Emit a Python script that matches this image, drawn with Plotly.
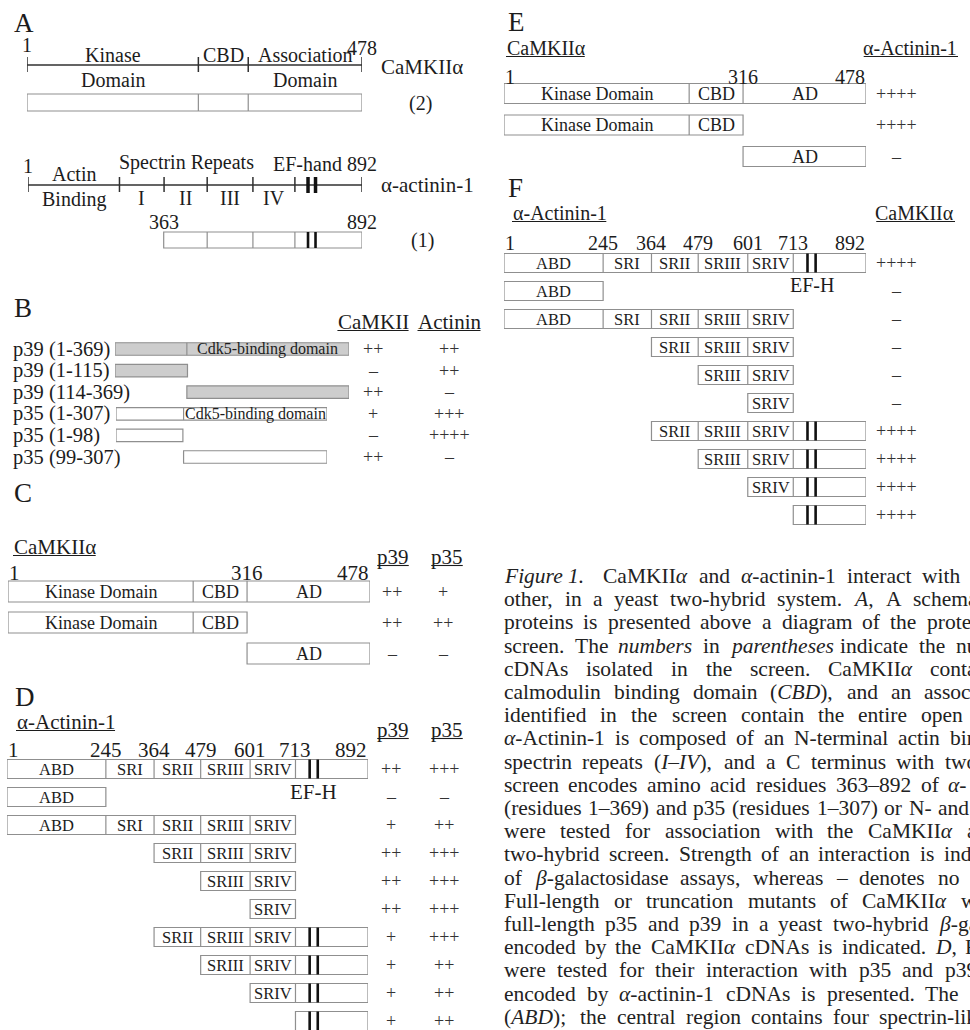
import re
import plotly.graph_objects as go

W, H = 970, 1030
SERIF = "Liberation Serif"
INK = "#1c1c1c"
LINE = "#303030"
EDGE = "#8f8f8f"
SIGN = "#333333"
GREY_FILL = "#cdcdcd"

# ======================= data =======================
# CaMKIIalpha (478 aa)
CAMK_LEN = 478
CAMK_BOUNDS = [1, 245, 316, 478]
CAMK_DOMAINS = ["Kinase Domain", "CBD", "AD"]
CAMK_SCHEME_TOP = ["Kinase", "CBD", "Association"]
CAMK_SCHEME_BOTTOM = ["Domain", "", "Domain"]
CAMK_NUMBERS = [1, 316, 478]

# alpha-actinin-1 (892 aa)
ACTN_LEN = 892
ACTN_BOUNDS = [1, 245, 364, 479, 601, 713, 892]
ACTN_DOMAINS = ["ABD", "SRI", "SRII", "SRIII", "SRIV", ""]
ACTN_ROMAN = ["", "I", "II", "III", "IV", ""]
ACTN_NUMBERS = [1, 245, 364, 479, 601, 713, 892]
ACTN_EF = [748, 768]

# Panel A: clones isolated in the screen
A_CLONE_START = [1, 363]
A_CLONE_END = [478, 892]
A_CLONE_COUNT = ["(2)", "(1)"]

# Panel B: p39 / p35 constructs
P39_LEN = 369
P35_LEN = 307
P39_CDK5_START = 114
P35_CDK5_START = 99
B_NAMES = ["p39 (1-369)", "p39 (1-115)", "p39 (114-369)",
           "p35 (1-307)", "p35 (1-98)", "p35 (99-307)"]
B_PROTEIN = ["p39", "p39", "p39", "p35", "p35", "p35"]
B_START = [1, 1, 114, 1, 1, 99]
B_END = [369, 115, 369, 307, 98, 307]
B_CAMKII = ["++", "\u2013", "++", "+", "\u2013", "++"]
B_ACTININ = ["++", "++", "\u2013", "+++", "++++", "\u2013"]

# Panels C and E: CaMKIIalpha constructs
CE_START = [1, 1, 316]
CE_END = [478, 316, 478]
C_P39 = ["++", "++", "\u2013"]
C_P35 = ["+", "++", "\u2013"]
E_ACTININ = ["++++", "++++", "\u2013"]

# Panels D and F: alpha-actinin-1 constructs
DF_START = [1, 1, 1, 364, 479, 601, 364, 479, 601, 713]
DF_END = [892, 245, 713, 713, 713, 713, 892, 892, 892, 892]
D_P39 = ["++", "\u2013", "+", "++", "++", "++", "+", "+", "+", "+"]
D_P35 = ["+++", "\u2013", "++", "+++", "+++", "+++", "+++", "++", "++", "++"]
F_CAMKII = ["++++", "\u2013", "\u2013", "\u2013", "\u2013", "\u2013",
            "++++", "++++", "++++", "++++"]

CAPTION_LINES = [
    "<i>Figure\u00a01.</i>\u00a0\u00a0 CaMKII<i>\u03b1</i> and <i>\u03b1</i>-actinin-1 interact with t",
    "other, in a yeast two-hybrid system. <i>A</i>, A schema",
    "proteins is presented above a diagram of the protei",
    "screen. The <i>numbers</i> in <i>parentheses</i> indicate the nu",
    "cDNAs isolated in the screen. CaMKII<i>\u03b1</i> conta",
    "calmodulin binding domain (<i>CBD</i>), and an associ",
    "identified in the screen contain the entire open",
    "<i>\u03b1</i>-Actinin-1 is composed of an N-terminal actin bin",
    "spectrin repeats (<i>I\u2013IV</i>), and a C terminus with two",
    "screen encodes amino acid residues 363\u2013892 of <i>\u03b1</i>-",
    "(residues 1\u2013369) and p35 (residues 1\u2013307) or N- and",
    "were tested for association with the CaMKII<i>\u03b1</i> a",
    "two-hybrid screen. Strength of an interaction is indi",
    "of <i>\u03b2</i>-galactosidase assays, whereas \u2013 denotes no",
    "Full-length or truncation mutants of CaMKII<i>\u03b1</i> w",
    "full-length p35 and p39 in a yeast two-hybrid <i>\u03b2</i>-ga",
    "encoded by the CaMKII<i>\u03b1</i> cDNAs is indicated. <i>D</i>, F",
    "were tested for their interaction with p35 and p39",
    "encoded by <i>\u03b1</i>-actinin-1 cDNAs is presented. The I",
    "(<i>ABD</i>); the central region contains four spectrin-lik",
]
CAPTION_END = [976, 976, 976, 976, 976, 976, 962, 976, 976, 966,
               968, 976, 976, 958, 976, 976, 976, 976, 976, 976]

# ======================= layout constants =======================
AXES = [  # key, left px, right px, residues
    ("A_camk", 27, 362, CAMK_LEN),
    ("A_actn", 28, 362, ACTN_LEN),
    ("B_p39", 115, 349, P39_LEN),
    ("B_p35", 116, 327, P35_LEN),
    ("C", 8, 370, CAMK_LEN),
    ("D", 7, 368, ACTN_LEN),
    ("E", 504, 866, CAMK_LEN),
    ("F", 504, 866, ACTN_LEN),
]

# Times / Liberation Serif advance widths (1/1000 em)
CW = {' ': 250, '\u00a0': 250, '!': 333, '(': 333, ')': 333, '+': 564, ',': 250, '-': 333,
      '.': 250, '/': 278, ':': 278, ';': 278, '\u2013': 500, '\u03b1': 550, '\u03b2': 500,
      'A': 722, 'B': 667, 'C': 667, 'D': 722, 'E': 611, 'F': 556, 'G': 722, 'H': 722,
      'I': 333, 'J': 389, 'K': 722, 'L': 611, 'M': 889, 'N': 722, 'O': 722, 'P': 556,
      'Q': 722, 'R': 667, 'S': 556, 'T': 611, 'U': 722, 'V': 722, 'W': 944, 'X': 722,
      'Y': 722, 'Z': 611, 'a': 444, 'b': 500, 'c': 444, 'd': 500, 'e': 444, 'f': 333,
      'g': 500, 'h': 500, 'i': 278, 'j': 278, 'k': 500, 'l': 278, 'm': 778, 'n': 500,
      'o': 500, 'p': 500, 'q': 500, 'r': 333, 's': 389, 't': 278, 'u': 500, 'v': 500,
      'w': 722, 'x': 500, 'y': 500, 'z': 444}


def tw(s, size):
    s = re.sub(r"<[^>]+>", "", s)
    return sum(CW.get(c, 500) for c in s) * size / 1000.0


fig = go.Figure()
shapes, annos = [], []
XR = {}
layout_axes = {}
for i, (key, p0, p1, n) in enumerate(AXES):
    idx = i + 2
    XR[key] = "x%d" % idx
    layout_axes["xaxis%d" % idx] = dict(domain=[p0 / W, p1 / W], range=[1, n], visible=False,
                                        anchor="y", fixedrange=True, autorange=False)
    fig.add_trace(go.Scatter(x=[1, n], y=[-50, -50], xaxis="x%d" % idx, yaxis="y",
                             mode="markers", marker=dict(opacity=0), hoverinfo="skip",
                             showlegend=False))


def T(x, y, s, size=20, xref="x", anchor="center", color=INK, xshift=0):
    annos.append(dict(x=x, y=y, xref=xref, yref="y", text=s, showarrow=False,
                      xanchor=anchor, yanchor="middle", xshift=xshift, borderpad=0,
                      font=dict(family=SERIF, size=size, color=color)))


def vline(xref, x, y0, y1, color=EDGE, w=1.2):
    shapes.append(dict(type="line", xref=xref, yref="y", x0=x, x1=x, y0=y0, y1=y1,
                       line=dict(color=color, width=w), layer="above"))


def hline(xref, x0, x1, y, color=LINE, w=1.5):
    shapes.append(dict(type="line", xref=xref, yref="y", x0=x0, x1=x1, y0=y, y1=y,
                       line=dict(color=color, width=w), layer="above"))


def underlined(x, y, s, size, anchor="left"):
    T(x, y, s, size, anchor=anchor)
    w = tw(s, size)
    x0 = x if anchor == "left" else (x - w / 2 if anchor == "center" else x - w)
    hline("x", x0, x0 + w, y + 8.5, color=INK, w=1.1)


def construct(key, bounds, names, start, end, yc, h, fs, ef=None, fill="white",
              label=True):
    xr = XR[key]
    y0, y1 = yc - h / 2, yc + h / 2
    shapes.append(dict(type="rect", xref=xr, yref="y", x0=start, x1=end, y0=y0, y1=y1,
                       line=dict(color=EDGE, width=1.2), fillcolor=fill, layer="above"))
    for b in bounds:
        if start + 3 < b < end - 3:
            vline(xr, b, y0, y1)
    if label:
        for i, nm in enumerate(names):
            a, b = bounds[i], bounds[i + 1]
            if nm and a >= start and b <= end:
                T((a + b) / 2, yc, nm, fs, xref=xr)
    if ef is not None:
        for e in ef:
            if start <= e <= end:
                vline(xr, e, y0, y1, color="#111111", w=2.6)


def numbers(key, nums, y, size):
    xr = XR[key]
    for i, n in enumerate(nums):
        anchor = "left" if i == 0 else ("right" if i == len(nums) - 1 else "center")
        T(n, y, str(n), size, xref=xr, anchor=anchor)


# ======================= Panel A =======================
T(13, 23, "A", 27, anchor="left")
xr = XR["A_camk"]
yl = 65
hline(xr, CAMK_BOUNDS[0], CAMK_BOUNDS[-1], yl)
for b in CAMK_BOUNDS:
    vline(xr, b, yl - 8, yl + 7, color=LINE, w=1.5)
T(1, 45, "1", 20, xref=xr)
for i in range(len(CAMK_SCHEME_TOP)):
    mid = (CAMK_BOUNDS[i] + CAMK_BOUNDS[i + 1]) / 2
    T(mid, 55, CAMK_SCHEME_TOP[i], 20, xref=xr)
    if CAMK_SCHEME_BOTTOM[i]:
        T(mid, 80, CAMK_SCHEME_BOTTOM[i], 20, xref=xr)
T(CAMK_LEN, 48, str(CAMK_LEN), 20, xref=xr)
T(380, 67, "CaMKII\u03b1", 21, anchor="left")
construct("A_camk", CAMK_BOUNDS, CAMK_DOMAINS, A_CLONE_START[0], A_CLONE_END[0], 102.5, 17, 18,
          label=False)
T(420, 103, A_CLONE_COUNT[0], 20)

xr = XR["A_actn"]
yl = 185
hline(xr, ACTN_BOUNDS[0], ACTN_BOUNDS[-1], yl)
for b in ACTN_BOUNDS:
    vline(xr, b, yl - 8, yl + 7, color=LINE, w=1.5)
for e in ACTN_EF:
    vline(xr, e, yl - 8, yl + 8, color="#111111", w=3.5)
T(1, 166, "1", 20, xref=xr)
T((ACTN_BOUNDS[0] + ACTN_BOUNDS[1]) / 2, 174, "Actin", 20, xref=xr)
T((ACTN_BOUNDS[0] + ACTN_BOUNDS[1]) / 2, 199, "Binding", 20, xref=xr)
T((ACTN_BOUNDS[1] + ACTN_BOUNDS[4]) / 2, 162, "Spectrin Repeats", 20, xref=xr)
for i, r in enumerate(ACTN_ROMAN):
    if r:
        T((ACTN_BOUNDS[i] + ACTN_BOUNDS[i + 1]) / 2, 198, r, 20, xref=xr)
T(ACTN_LEN, 164, "EF-hand " + str(ACTN_LEN), 20, xref=xr, anchor="right", xshift=16)
T(380, 185, "\u03b1-actinin-1", 21, anchor="left")
T(A_CLONE_START[1], 222, str(A_CLONE_START[1]), 20, xref=xr)
T(A_CLONE_END[1], 222, str(A_CLONE_END[1]), 20, xref=xr)
construct("A_actn", ACTN_BOUNDS, ACTN_DOMAINS, A_CLONE_START[1], A_CLONE_END[1], 240, 16, 16,
          ef=ACTN_EF, label=False)
T(422, 240, A_CLONE_COUNT[1], 20)

# ======================= Panel B =======================
T(13, 308, "B", 27, anchor="left")
underlined(373, 322, "CaMKII", 21, anchor="center")
underlined(449, 322, "Actinin", 21, anchor="center")
B_Y0, B_STEP, B_H = 349, 21.6, 12.5
for i in range(len(B_NAMES)):
    yc = B_Y0 + i * B_STEP
    T(12, yc, B_NAMES[i], 20.5, anchor="left")
    if B_PROTEIN[i] == "p39":
        key, n, cb, fill = "B_p39", P39_LEN, P39_CDK5_START, GREY_FILL
    else:
        key, n, cb, fill = "B_p35", P35_LEN, P35_CDK5_START, "white"
    full = B_START[i] == 1 and B_END[i] == n
    construct(key, [1, cb, n], ["", "Cdk5-binding domain"], B_START[i], B_END[i], yc, B_H, 16,
              fill=fill, label=full)
    T(373, yc, B_CAMKII[i], 18, color=SIGN)
    T(449, yc, B_ACTININ[i], 18, color=SIGN)

# ======================= Panel C =======================
T(13, 493, "C", 27, anchor="left")
underlined(13, 547, "CaMKII\u03b1", 21)
underlined(393, 557, "p39", 21, anchor="center")
underlined(447, 557, "p35", 21, anchor="center")
numbers("C", CAMK_NUMBERS, 573, 21)
C_Y0, C_STEP, C_H = 591.5, 31, 21
for i in range(len(CE_START)):
    yc = C_Y0 + i * C_STEP
    construct("C", CAMK_BOUNDS, CAMK_DOMAINS, CE_START[i], CE_END[i], yc, C_H, 18)
    T(392, yc, C_P39[i], 18, color=SIGN)
    T(443, yc, C_P35[i], 18, color=SIGN)

# ======================= Panel D =======================
T(14, 697, "D", 27, anchor="left")
underlined(16, 722, "\u03b1-Actinin-1", 21)
underlined(393, 730, "p39", 21, anchor="center")
underlined(447, 730, "p35", 21, anchor="center")
numbers("D", ACTN_NUMBERS, 750, 21)
D_Y0, D_STEP, D_H = 769, 28, 19
for i in range(len(DF_START)):
    yc = D_Y0 + i * D_STEP
    construct("D", ACTN_BOUNDS, ACTN_DOMAINS, DF_START[i], DF_END[i], yc, D_H, 16.5, ef=ACTN_EF)
    T(391, yc, D_P39[i], 18, color=SIGN)
    T(444, yc, D_P35[i], 18, color=SIGN)
T(sum(ACTN_EF) / 2, 792, "EF-H", 21, xref=XR["D"])

# ======================= Panel E =======================
T(507, 22, "E", 27, anchor="left")
underlined(506, 48, "CaMKII\u03b1", 20)
underlined(958, 48, "\u03b1-Actinin-1", 20, anchor="right")
numbers("E", CAMK_NUMBERS, 77, 20)
E_Y0, E_STEP, E_H = 93.5, 31.5, 20
for i in range(len(CE_START)):
    yc = E_Y0 + i * E_STEP
    construct("E", CAMK_BOUNDS, CAMK_DOMAINS, CE_START[i], CE_END[i], yc, E_H, 18)
    T(896, yc, E_ACTININ[i], 18, color=SIGN)

# ======================= Panel F =======================
T(507, 188, "F", 27, anchor="left")
underlined(512, 213, "\u03b1-Actinin-1", 20)
underlined(955, 213, "CaMKII\u03b1", 20, anchor="right")
numbers("F", ACTN_NUMBERS, 243, 20)
F_Y0, F_STEP, F_H = 263, 28, 19
for i in range(len(DF_START)):
    yc = F_Y0 + i * F_STEP
    construct("F", ACTN_BOUNDS, ACTN_DOMAINS, DF_START[i], DF_END[i], yc, F_H, 16.5, ef=ACTN_EF)
    T(896, yc, F_CAMKII[i], 18, color=SIGN)
T(sum(ACTN_EF) / 2, 285, "EF-H", 20, xref=XR["F"])

# ======================= caption =======================
CAP_X0, CAP_Y0, CAP_STEP, CAP_FS = 503, 576, 23.2, 21.5
for li, line in enumerate(CAPTION_LINES):
    words = line.split(" ")
    ww = [tw(w, CAP_FS) for w in words]
    sp = tw(" ", CAP_FS)
    natural = sum(ww) + sp * (len(words) - 1)
    extra = (CAPTION_END[li] - CAP_X0 - natural) / max(len(words) - 1, 1)
    extra = max(extra, -1.5)
    x = CAP_X0
    y = CAP_Y0 + li * CAP_STEP
    for w, wdt in zip(words, ww):
        T(x, y, w, CAP_FS, anchor="left", color="#222222")
        x += wdt + sp + extra

fig.update_layout(
    width=W, height=H, margin=dict(l=0, r=0, t=0, b=0),
    paper_bgcolor="white", plot_bgcolor="rgba(0,0,0,0)", showlegend=False,
    xaxis=dict(range=[0, W], visible=False, fixedrange=True, domain=[0, 1]),
    yaxis=dict(range=[H, 0], visible=False, fixedrange=True, domain=[0, 1]),
    shapes=shapes, annotations=annos, **layout_axes,
)
fig.write_html("out.html", config={"displayModeBar": False},
               post_script="document.body.style.margin='0';document.body.style.overflow='hidden';")
